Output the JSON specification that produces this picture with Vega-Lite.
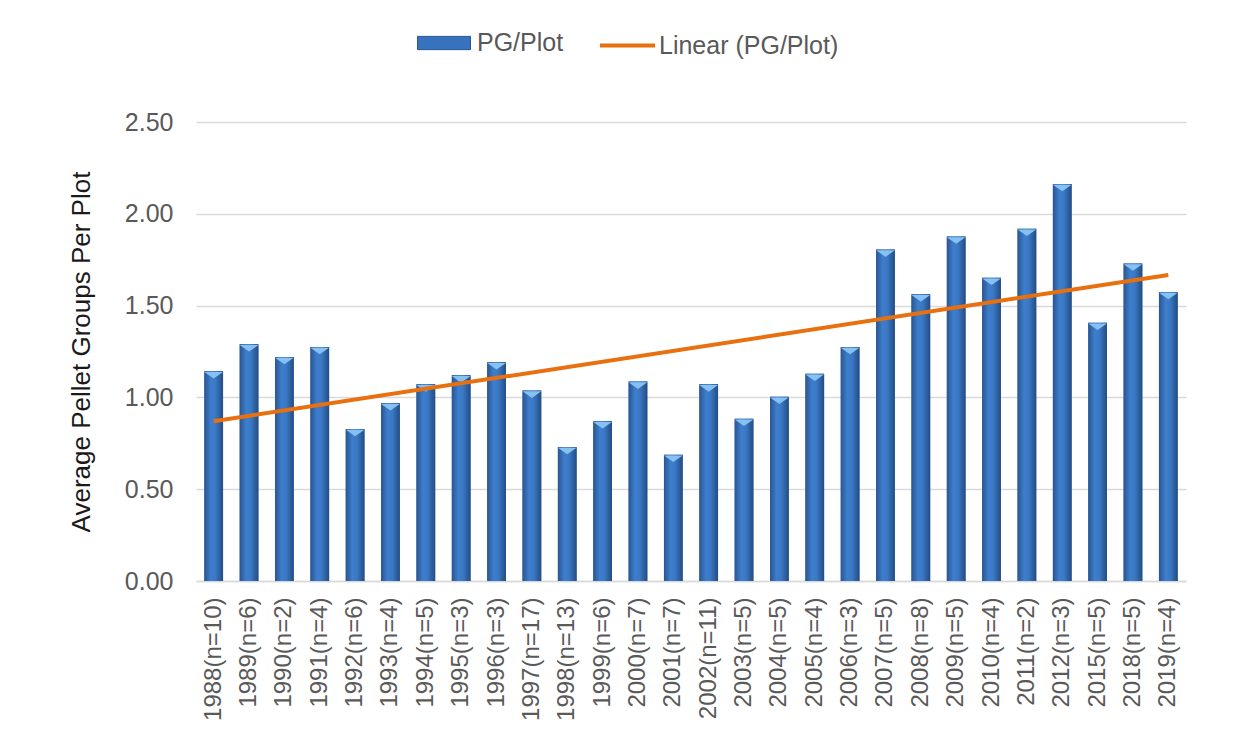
{
  "$schema": "https://vega.github.io/schema/vega-lite/v6.json",
  "width": 990,
  "height": 459,
  "autosize": {"type": "none"},
  "padding": {"left": 196, "top": 122, "right": 66, "bottom": 157},
  "background": "white",
  "config": {
    "view": {"stroke": null},
    "font": "Liberation Sans",
    "legend": {"padding": 0, "labelFont": "Liberation Sans", "labelFontSize": 25, "labelColor": "#595959", "labelLimit": 0}
  },
  "datasets": {
    "bars": [
      {"label": "1988(n=10)", "value": 1.142},
      {"label": "1989(n=6)", "value": 1.289},
      {"label": "1990(n=2)", "value": 1.220},
      {"label": "1991(n=4)", "value": 1.275},
      {"label": "1992(n=6)", "value": 0.828},
      {"label": "1993(n=4)", "value": 0.968},
      {"label": "1994(n=5)", "value": 1.071},
      {"label": "1995(n=3)", "value": 1.120},
      {"label": "1996(n=3)", "value": 1.191},
      {"label": "1997(n=17)", "value": 1.037},
      {"label": "1998(n=13)", "value": 0.730},
      {"label": "1999(n=6)", "value": 0.870},
      {"label": "2000(n=7)", "value": 1.086},
      {"label": "2001(n=7)", "value": 0.688},
      {"label": "2002(n=11)", "value": 1.071},
      {"label": "2003(n=5)", "value": 0.884},
      {"label": "2004(n=5)", "value": 1.004},
      {"label": "2005(n=4)", "value": 1.129},
      {"label": "2006(n=3)", "value": 1.275},
      {"label": "2007(n=5)", "value": 1.805},
      {"label": "2008(n=8)", "value": 1.562},
      {"label": "2009(n=5)", "value": 1.876},
      {"label": "2010(n=4)", "value": 1.652},
      {"label": "2011(n=2)", "value": 1.919},
      {"label": "2012(n=3)", "value": 2.162},
      {"label": "2015(n=5)", "value": 1.407},
      {"label": "2018(n=5)", "value": 1.729},
      {"label": "2019(n=4)", "value": 1.574}
    ],
    "trend": [
      {"label": "1988(n=10)", "trend": 0.870},
      {"label": "2019(n=4)", "trend": 1.667}
    ]
  },
  "layer": [
    {
      "data": {"name": "bars"},
      "mark": {"type": "bar"},
      "encoding": {
        "x": {
          "field": "label",
          "type": "nominal",
          "sort": null,
          "title": null,
          "scale": {
            "domain": ["1988(n=10)","1989(n=6)","1990(n=2)","1991(n=4)","1992(n=6)","1993(n=4)","1994(n=5)","1995(n=3)","1996(n=3)","1997(n=17)","1998(n=13)","1999(n=6)","2000(n=7)","2001(n=7)","2002(n=11)","2003(n=5)","2004(n=5)","2005(n=4)","2006(n=3)","2007(n=5)","2008(n=8)","2009(n=5)","2010(n=4)","2011(n=2)","2012(n=3)","2015(n=5)","2018(n=5)","2019(n=4)"],
            "paddingInner": 0.47,
            "paddingOuter": 0.235
          },
          "axis": {
            "labelAngle": -90,
            "labelFontSize": 24,
            "labelColor": "#595959",
            "labelPadding": 16,
            "labelLimit": 0,
            "ticks": false,
            "domainColor": "#d9d9d9",
            "domainWidth": 1.3
          }
        },
        "y": {
          "field": "value",
          "type": "quantitative",
          "title": "Average Pellet Groups Per Plot",
          "scale": {"domain": [0, 2.5], "nice": false},
          "axis": {
            "values": [0, 0.5, 1, 1.5, 2, 2.5],
            "format": ".2f",
            "labelFontSize": 25,
            "labelColor": "#595959",
            "labelPadding": 23,
            "ticks": false,
            "domain": false,
            "gridColor": "#d9d9d9",
            "gridWidth": 1.3,
            "titleFontSize": 26,
            "titleFontWeight": "normal",
            "titleColor": "#1a1a1a",
            "titlePadding": 30
          }
        },
        "fill": {
          "datum": "PG/Plot",
          "type": "nominal",
          "scale": {"domain": ["PG/Plot"], "range": ["#3672bd"]},
          "legend": {
            "orient": "none",
            "legendX": 221,
            "legendY": -106,
            "title": null,
            "symbolType": "M-1,-0.25H1V0.25H-1Z",
            "symbolSize": 2809,
            "symbolStrokeColor": "#2a5590",
            "symbolStrokeWidth": 1,
            "labelOffset": 6
          }
        }
      }
    },
    {
      "data": {"name": "bars"},
      "mark": {
        "type": "bar",
        "fill": {"gradient": "linear", "x1": 0, "y1": 0, "x2": 1, "y2": 0, "stops": [
          {"offset": 0, "color": "#2a5590"},
          {"offset": 0.35, "color": "#3d7ecd"},
          {"offset": 0.6, "color": "#3a78c4"},
          {"offset": 1, "color": "#244c82"}
        ]}
      },
      "encoding": {
        "x": {"field": "label", "type": "nominal", "sort": null},
        "y": {"field": "value", "type": "quantitative"}
      }
    },
    {
      "data": {"name": "bars"},
      "mark": {"type": "point", "shape": "M-1,-0.35L1,-0.35L0,0.35Z", "filled": true, "fill": "#86c1f2", "opacity": 1, "size": 350, "yOffset": 4},
      "encoding": {
        "x": {"field": "label", "type": "nominal", "sort": null},
        "y": {"field": "value", "type": "quantitative"}
      }
    },
    {
      "data": {"name": "trend"},
      "mark": {"type": "line", "strokeWidth": 4},
      "encoding": {
        "x": {"field": "label", "type": "nominal", "sort": null},
        "y": {"field": "trend", "type": "quantitative"},
        "stroke": {
          "datum": "Linear (PG/Plot)",
          "type": "nominal",
          "scale": {"domain": ["Linear (PG/Plot)"], "range": ["#e8700f"]},
          "legend": {
            "orient": "none",
            "legendX": 402,
            "legendY": -106,
            "title": null,
            "symbolType": "stroke",
            "symbolSize": 3025,
            "symbolStrokeWidth": 4,
            "labelOffset": 2
          }
        }
      }
    }
  ]
}
